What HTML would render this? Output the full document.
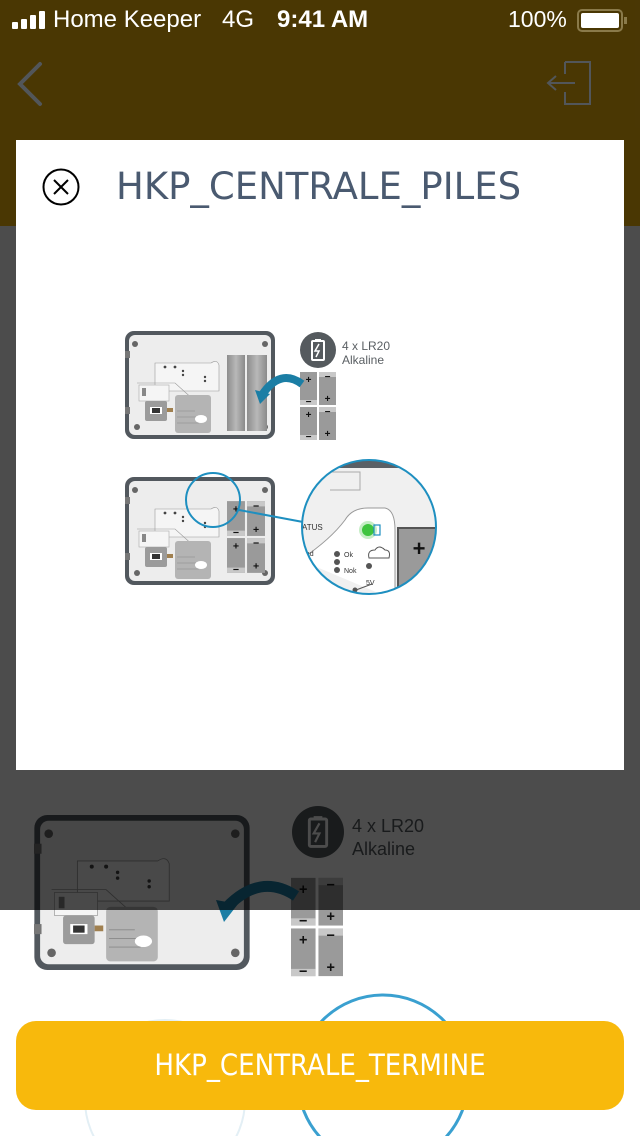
<!DOCTYPE html>
<html><head><meta charset="utf-8"><style>
*{margin:0;padding:0;box-sizing:border-box}
body{width:640px;height:1136px;overflow:hidden;background:#fff;font-family:"Liberation Sans",sans-serif;position:relative}
.abs{position:absolute}
</style></head><body>
<svg width="0" height="0" style="position:absolute">
<defs>
<linearGradient id="cyl" x1="0" x2="1"><stop offset="0" stop-color="#8d8d8d"/><stop offset=".5" stop-color="#b8b8b8"/><stop offset="1" stop-color="#8a8a8a"/></linearGradient>
<symbol id="dev" viewBox="0 0 150 108">
<rect x="0" y="0" width="150" height="108" rx="9" fill="#52585e"/>
<rect x="4" y="4" width="142" height="100" rx="6" fill="#ededed"/>
<rect x="-3" y="20" width="8" height="7" fill="#777"/><rect x="-3" y="76" width="8" height="7" fill="#777"/>
<circle cx="10" cy="13" r="3" fill="#666"/><circle cx="140" cy="13" r="3" fill="#666"/><circle cx="12" cy="96" r="3" fill="#666"/><circle cx="140" cy="96" r="3" fill="#666"/>
<path d="M30 32 H86 Q92 28 94 34 V60 H40 L30 56 Z" fill="#f5f5f5" stroke="#999" stroke-width=".6"/>
<path d="M12 52 H50 L70 70 L78 80" fill="none" stroke="#999" stroke-width=".6"/>
<rect x="14" y="54" width="30" height="16" fill="#f5f5f5" stroke="#aaa" stroke-width=".6"/>
<rect x="17" y="57" width="4" height="8" fill="#888"/>
<rect x="50" y="64" width="36" height="38" rx="3" fill="#b4b4b4"/>
<path d="M52 80 H70 M52 86 H72 M52 92 H74" stroke="#888" stroke-width=".6"/>
<ellipse cx="76" cy="88" rx="6" ry="4" fill="#fff"/>
<rect x="20" y="70" width="22" height="20" rx="2" fill="#9b9b9b"/>
<rect x="25" y="76" width="12" height="7" fill="#fff"/><rect x="27" y="77" width="8" height="5" fill="#333"/>
<rect x="42" y="77" width="6" height="4" fill="#a08050"/>
<circle cx="40" cy="36" r="1.4" fill="#444"/><circle cx="50" cy="36" r="1.4" fill="#444"/><circle cx="58" cy="40" r="1.2" fill="#444"/><circle cx="58" cy="44" r="1.2" fill="#444"/><circle cx="80" cy="46" r="1.2" fill="#444"/><circle cx="80" cy="50" r="1.2" fill="#444"/>
</symbol>
<symbol id="cells" viewBox="0 0 36 68">
<rect x="0" y="0" width="17" height="33" fill="#9a9a9a"/><rect x="19" y="0" width="17" height="33" fill="#9a9a9a"/>
<rect x="0" y="35" width="17" height="33" fill="#9a9a9a"/><rect x="19" y="35" width="17" height="33" fill="#9a9a9a"/>
<rect x="0" y="28" width="17" height="5" fill="#c8c8c8"/><rect x="19" y="0" width="17" height="5" fill="#c8c8c8"/>
<rect x="0" y="63" width="17" height="5" fill="#c8c8c8"/><rect x="19" y="35" width="17" height="5" fill="#c8c8c8"/>
<g font-family="Liberation Sans" font-weight="bold" font-size="10" fill="#111" text-anchor="middle">
<text x="8.5" y="11">+</text><text x="8.5" y="33">−</text><text x="27.5" y="8">−</text><text x="27.5" y="30">+</text>
<text x="8.5" y="46">+</text><text x="8.5" y="68">−</text><text x="27.5" y="43">−</text><text x="27.5" y="65">+</text></g>
</symbol>
<symbol id="bat" viewBox="0 0 36 36">
<circle cx="18" cy="18" r="18" fill="#555a5e"/>
<rect x="12" y="9" width="12" height="19" rx="1" fill="none" stroke="#fff" stroke-width="2"/>
<rect x="15" y="7" width="6" height="2" fill="#fff"/>
<path d="M19 12 L15 19 H19 L16 25" fill="none" stroke="#fff" stroke-width="1.5"/>
</symbol>
</defs></svg>

<div class="abs" style="left:0;top:0;width:640px;height:226px;background:#f8b90c"></div>
<svg class="abs" style="left:0;top:780px;overflow:hidden" width="640" height="356">
<use href="#dev" x="34" y="35" width="216" height="155"/>
<use href="#bat" x="292" y="26" width="52" height="52"/>
<text x="352" y="52" font-family="Liberation Sans" font-size="18" fill="#555a5e">4 x LR20</text>
<text x="352" y="75" font-family="Liberation Sans" font-size="18" fill="#555a5e">Alkaline</text>
<use href="#cells" x="291" y="88" width="52" height="118"/>
<path d="M296 116 Q260 92 226 128" fill="none" stroke="#1b7ea5" stroke-width="11"/>
<path d="M216 120 L224 142 L238 124 Z" fill="#1b7ea5"/>
<circle cx="383" cy="300" r="85" fill="#fff" stroke="#3aa0d0" stroke-width="3"/>
<circle cx="165" cy="320" r="80" fill="none" stroke="#e3eff5" stroke-width="2"/>
</svg>
<div class="abs" style="left:0;top:0;width:640px;height:910px;background:rgba(0,0,0,0.7)"></div>

<div class="abs" style="left:12px;top:12px;width:36px;height:17px">
<span class="abs" style="left:0;bottom:0;width:6px;height:7px;background:#fff;border-radius:1px"></span>
<span class="abs" style="left:9px;bottom:0;width:6px;height:10px;background:#fff;border-radius:1px"></span>
<span class="abs" style="left:18px;bottom:0;width:6px;height:14px;background:#fff;border-radius:1px"></span>
<span class="abs" style="left:27px;bottom:0;width:6px;height:18px;background:#fff;border-radius:1px"></span>
</div>
<div class="abs" style="left:53px;top:6px;color:#fff;font-size:24px;white-space:nowrap">Home Keeper</div>
<div class="abs" style="left:222px;top:6px;color:#fff;font-size:24px">4G</div>
<div class="abs" style="left:277px;top:6px;color:#fff;font-size:24px;font-weight:bold;white-space:nowrap">9:41 AM</div>
<div class="abs" style="left:508px;top:6px;color:#fff;font-size:23px">100%</div>
<div class="abs" style="left:577px;top:9px;width:46px;height:23px;border:2px solid #8a7a4a;border-radius:5px;padding:2px"><div style="width:100%;height:100%;background:#fff;border-radius:2px"></div></div>
<div class="abs" style="left:624px;top:17px;width:3px;height:7px;background:#8a7a4a"></div>
<svg class="abs" style="left:0;top:50px" width="640" height="70">
<path d="M40 14 L20 34 L40 54" fill="none" stroke="#52565a" stroke-width="4" stroke-linecap="round"/>
<path d="M565 12 H590 V54 H565 V42 M565 12 V24 M575 33 H548 M556 26 L548 33 L556 40" fill="none" stroke="#52565a" stroke-width="2"/>
</svg>

<div class="abs" style="left:16px;top:140px;width:608px;height:630px;background:#fff"></div>
<svg class="abs" style="left:42px;top:168px" width="40" height="40"><circle cx="19" cy="19" r="17.5" fill="none" stroke="#000" stroke-width="2"/><path d="M12 12 L26 26 M26 12 L12 26" stroke="#000" stroke-width="2"/></svg>
<div class="abs" style="left:116px;top:165px;font-size:37px;color:#4a5a70;font-family:'DejaVu Sans',sans-serif;white-space:nowrap">HKP_CENTRALE_PILES</div>

<svg class="abs" style="left:0;top:0" width="640" height="770">
<use href="#dev" x="125" y="331" width="150" height="108"/>
<g><rect x="227" y="355" width="18" height="76" fill="url(#cyl)"/><rect x="247" y="355" width="20" height="76" fill="url(#cyl)"/></g>
<use href="#bat" x="300" y="332" width="36" height="36"/>
<text x="342" y="350" font-family="Liberation Sans" font-size="12" fill="#5a5f63">4 x LR20</text>
<text x="342" y="364" font-family="Liberation Sans" font-size="12" fill="#5a5f63">Alkaline</text>
<use href="#cells" x="300" y="372" width="36" height="68"/>
<path d="M302 384 Q280 368 262 395" fill="none" stroke="#1b7ea5" stroke-width="8"/>
<path d="M255 390 L260 404 L270 394 Z" fill="#1b7ea5"/>

<use href="#dev" x="125" y="477" width="150" height="108"/>
<use href="#cells" x="227" y="500" width="38" height="74"/>
<circle cx="213" cy="500" r="27" fill="none" stroke="#1e8fc0" stroke-width="2"/>
<path d="M239 510 L303 522" stroke="#1e8fc0" stroke-width="2"/>
<clipPath id="zc"><circle cx="369" cy="527" r="67"/></clipPath>
<g clip-path="url(#zc)">
<rect x="300" y="458" width="140" height="140" fill="#f0f0f0"/>
<rect x="300" y="458" width="140" height="10" fill="#5a6066"/>
<path d="M330 472 H360 V490 H330" fill="none" stroke="#aaa"/>
<path d="M300 560 Q330 540 345 520 Q352 508 368 508 H385 Q395 510 395 530 V600" fill="#fff" stroke="#999"/>
<rect x="398" y="528" width="42" height="70" fill="#9a9a9a" stroke="#555" stroke-width="2"/>
<text x="419" y="556" font-family="Liberation Sans" font-weight="bold" font-size="22" fill="#111" text-anchor="middle">+</text>
<circle cx="368" cy="530" r="6" fill="#3ec43e"/><circle cx="368" cy="530" r="9" fill="#3ec43e" opacity=".3"/>
<rect x="374" y="525" width="6" height="10" fill="none" stroke="#1e8fc0" stroke-width="1.2"/>
<circle cx="337" cy="554" r="3" fill="#555"/><circle cx="337" cy="562" r="3" fill="#555"/><circle cx="337" cy="570" r="3" fill="#555"/>
<text x="344" y="557" font-family="Liberation Sans" font-size="7" fill="#333">Ok</text>
<text x="344" y="573" font-family="Liberation Sans" font-size="7" fill="#333">Nok</text>
<text x="302" y="530" font-family="Liberation Sans" font-size="8" fill="#333">ATUS</text>
<text x="302" y="556" font-family="Liberation Sans" font-size="7" fill="#333">ead</text>
<path d="M369 558 q-2-8 6-8 q4-6 10 0 q6 0 4 8 z" fill="none" stroke="#555"/>
<circle cx="369" cy="566" r="3" fill="#555"/>
<path d="M356 590 L372 584" stroke="#555"/><circle cx="355" cy="590" r="2.5" fill="#555"/>
<text x="366" y="585" font-family="Liberation Sans" font-size="7" fill="#333">5V</text>
</g>
<circle cx="369" cy="527" r="67" fill="none" stroke="#1e8fc0" stroke-width="2"/>
</svg>

<div class="abs" style="left:16px;top:1021px;width:608px;height:89px;background:#f8b90c;border-radius:20px;color:#fff;font-size:29px;text-align:center;line-height:89px;font-family:'DejaVu Sans Condensed','DejaVu Sans',sans-serif">HKP_CENTRALE_TERMINE</div>
</body></html>
